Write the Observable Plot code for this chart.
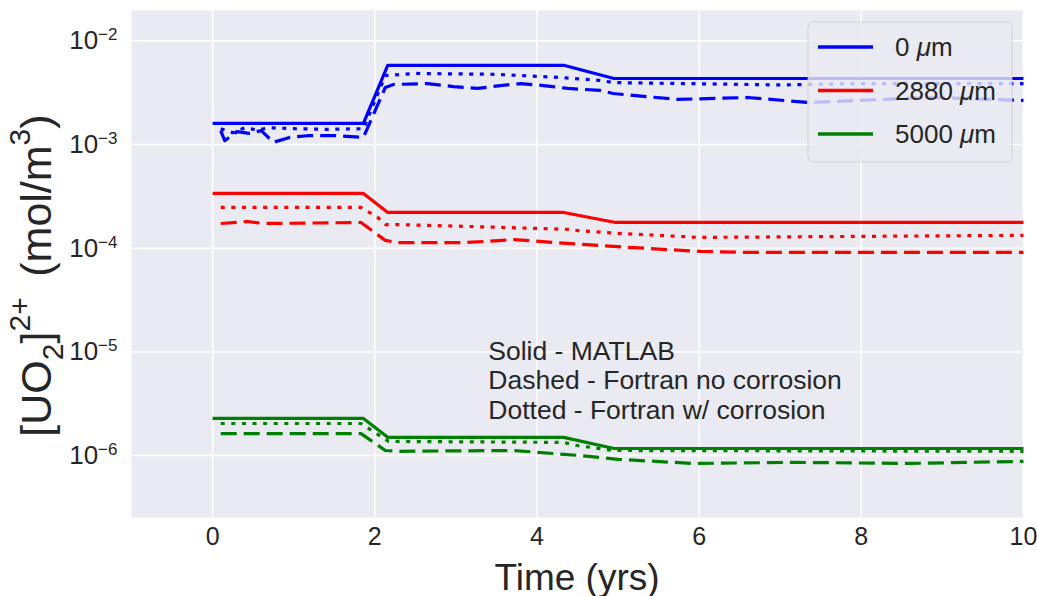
<!DOCTYPE html>
<html>
<head>
<meta charset="utf-8">
<script src="https://cdn.jsdelivr.net/npm/d3@7"></script>
<script src="https://cdn.jsdelivr.net/npm/@observablehq/plot@0.6"></script>
<style>
  body { margin: 0; background: #ffffff; }
  #chart svg { display: block; }
</style>
</head>
<body>
<div id="chart"></div>
<script>
// Axis ticks
const xTicks = [0, 2, 4, 6, 8, 10];
const yTicks = [1e-2, 1e-3, 1e-4, 1e-5, 1e-6];

// Series labels
const depths = ["0", "2880", "5000"];
const depthColors = ["#0000ff", "#ff0000", "#008000"];
const models = ["Solid - MATLAB", "Dashed - Fortran no corrosion", "Dotted - Fortran w/ corrosion"];

// 0 um
const t0Matlab = [0, 1.86, 2.16, 4.33, 4.95, 10];
const c0Matlab = [1.6e-3, 1.6e-3, 5.8e-3, 5.8e-3, 4.33e-3, 4.33e-3];
const t0NoCorr = [0.1, 0.15, 0.3, 0.45, 0.6, 0.75, 0.95, 1.2, 1.5, 1.86, 2.13, 2.23, 2.65, 2.97, 3.27, 3.55, 3.8, 4.08, 4.38, 4.78, 4.94, 5.73, 6.6, 7.34, 7.99, 8.82, 10];
const c0NoCorr = [1.36e-3, 1.09e-3, 1.33e-3, 1.28e-3, 1.36e-3, 1.05e-3, 1.17e-3, 1.22e-3, 1.22e-3, 1.17e-3, 3.55e-3, 3.79e-3, 3.87e-3, 3.62e-3, 3.47e-3, 3.7e-3, 3.87e-3, 3.7e-3, 3.47e-3, 3.32e-3, 3.1e-3, 2.72e-3, 2.84e-3, 2.54e-3, 2.66e-3, 2.84e-3, 2.66e-3];
const t0Corr = [0.1, 0.25, 0.4, 0.55, 0.7, 1.0, 1.4, 1.86, 2.13, 2.5, 3.5, 4.29, 4.78, 4.95, 5.8, 7.0, 8.0, 10];
const c0Corr = [1.42e-3, 1.3e-3, 1.45e-3, 1.38e-3, 1.45e-3, 1.42e-3, 1.4e-3, 1.42e-3, 4.62e-3, 4.84e-3, 4.75e-3, 4.43e-3, 4.14e-3, 3.95e-3, 3.87e-3, 3.75e-3, 3.87e-3, 3.87e-3];

// 2880 um
const t2880Matlab = [0, 1.86, 2.16, 4.33, 4.97, 10];
const c2880Matlab = [3.37e-4, 3.37e-4, 2.21e-4, 2.21e-4, 1.77e-4, 1.77e-4];
const t2880NoCorr = [0.1, 0.43, 0.63, 1.83, 2.13, 2.28, 3.1, 3.71, 4.54, 5.12, 6.02, 6.6, 10];
const c2880NoCorr = [1.73e-4, 1.81e-4, 1.73e-4, 1.77e-4, 1.19e-4, 1.13e-4, 1.13e-4, 1.21e-4, 1.09e-4, 1.02e-4, 9.3e-5, 9.1e-5, 9.1e-5];
const t2880Corr = [0.1, 1.83, 2.03, 2.13, 2.3, 3.4, 4.38, 4.5, 5.0, 6.0, 8.0, 10];
const c2880Corr = [2.47e-4, 2.47e-4, 2.0e-4, 1.69e-4, 1.69e-4, 1.6e-4, 1.52e-4, 1.48e-4, 1.39e-4, 1.27e-4, 1.3e-4, 1.33e-4];

// 5000 um
const t5000Matlab = [0, 1.86, 2.16, 4.33, 4.95, 10];
const c5000Matlab = [2.28e-6, 2.28e-6, 1.5e-6, 1.5e-6, 1.17e-6, 1.17e-6];
const t5000NoCorr = [0.1, 1.83, 2.13, 2.28, 3.71, 4.54, 5.0, 5.93, 7.16, 8.6, 10];
const c5000NoCorr = [1.63e-6, 1.63e-6, 1.12e-6, 1.1e-6, 1.12e-6, 1.0e-6, 9.2e-7, 8.4e-7, 8.6e-7, 8.4e-7, 8.8e-7];
const t5000Corr = [0.1, 1.83, 2.17, 4.33, 4.5, 4.94, 10];
const c5000Corr = [2.04e-6, 2.04e-6, 1.37e-6, 1.34e-6, 1.25e-6, 1.12e-6, 1.1e-6];

// depth index, model index (0 solid, 1 dashed, 2 dotted)
const series = [
  {depth: 0, model: 1, t: t0NoCorr, c: c0NoCorr},
  {depth: 0, model: 2, t: t0Corr, c: c0Corr},
  {depth: 0, model: 0, t: t0Matlab, c: c0Matlab},
  {depth: 1, model: 1, t: t2880NoCorr, c: c2880NoCorr},
  {depth: 1, model: 2, t: t2880Corr, c: c2880Corr},
  {depth: 1, model: 0, t: t2880Matlab, c: c2880Matlab},
  {depth: 2, model: 1, t: t5000NoCorr, c: c5000NoCorr},
  {depth: 2, model: 2, t: t5000Corr, c: c5000Corr},
  {depth: 2, model: 0, t: t5000Matlab, c: c5000Matlab}
];

const dashFor = ["none", "16,7", "4,6.6"];
const FONT = "'Liberation Sans', Arial, sans-serif";
const INK = "#262626";
const BG = "#EAEAF2";

const W = 1037, H = 596;
const M = {left: 131, right: 14, top: 10, bottom: 79};

const lineMarks = series.map(s =>
  Plot.line(s.t.map((t, i) => ({t, c: s.c[i]})), {
    x: "t", y: "c",
    stroke: depthColors[s.depth],
    strokeWidth: 3.2,
    strokeDasharray: dashFor[s.model],
    strokeLinecap: "butt",
    strokeLinejoin: "round"
  })
);

const chart = Plot.plot({
  width: W, height: H,
  marginLeft: M.left, marginRight: M.right, marginTop: M.top, marginBottom: M.bottom,
  style: {fontFamily: FONT, background: "#ffffff", color: INK},
  x: {domain: [-1, 10]},
  y: {type: "log", domain: [Math.pow(10, -6.597), Math.pow(10, -1.708)]},
  marks: [
    Plot.frame({fill: BG, stroke: null}),
    Plot.gridX(xTicks, {stroke: "#ffffff", strokeOpacity: 1, strokeWidth: 1.5}),
    Plot.gridY(yTicks, {stroke: "#ffffff", strokeOpacity: 1, strokeWidth: 1.5}),
    Plot.axisX(xTicks, {tickSize: 0, tickPadding: 10, label: null, fill: INK}),
    Plot.axisY(yTicks, {tickSize: 0, tickPadding: 14, label: null, fill: INK,
      tickFormat: d => "10^" + Math.round(Math.log10(d))}),
    ...lineMarks,
    Plot.text([models.join("\n")], {
      x: 3.4, y: 1.34e-5, text: d => d,
      textAnchor: "start", lineAnchor: "top", lineHeight: 1.12,
      fontSize: 26.5, fill: INK
    })
  ]
});

const svg = d3.select(chart);

// Tick label sizes
svg.selectAll('g[aria-label="x-axis tick label"] text').style("font-size", "25px");

// Exponent tick labels: 10 with a raised exponent
svg.selectAll('g[aria-label="y-axis tick label"] text').each(function () {
  const el = d3.select(this);
  const raw = el.text();
  const exp = raw.split("^")[1];
  el.style("font-size", "26px");
  el.text("10");
  el.append("tspan").attr("baseline-shift", "55%").style("font-size", "17px")
    .text(exp.replace("-", "\u2212"));
});

// Axis titles
svg.append("text")
  .attr("x", (M.left + W - M.right) / 2).attr("y", 577)
  .attr("text-anchor", "middle").attr("dominant-baseline", "central")
  .attr("font-family", FONT).style("font-size", "37px").attr("fill", INK)
  .text("Time (yrs)");

const yl = svg.append("text")
  .attr("transform", `translate(36,${(M.top + H - M.bottom) / 2 + 12}) rotate(-90)`)
  .attr("text-anchor", "middle").attr("dominant-baseline", "central")
  .attr("font-family", FONT).style("font-size", "43px").attr("fill", INK);
yl.append("tspan").text("[UO");
yl.append("tspan").attr("baseline-shift", "sub").style("font-size", "30px").text("2");
yl.append("tspan").text("]");
yl.append("tspan").attr("baseline-shift", "super").style("font-size", "30px").text("2+");
yl.append("tspan").text("\u2009 (mol/m");
yl.append("tspan").attr("baseline-shift", "super").style("font-size", "30px").text("3");
yl.append("tspan").text(")");

// Legend box
const lg = svg.append("g");
lg.append("rect")
  .attr("x", 808).attr("y", 22).attr("width", 204).attr("height", 140).attr("rx", 5)
  .attr("fill", BG).attr("fill-opacity", 0.8)
  .attr("stroke", "#cccccc").attr("stroke-opacity", 0.8);
depths.forEach((d, i) => {
  const yy = 47 + i * 43.5;
  lg.append("line")
    .attr("x1", 818).attr("x2", 873).attr("y1", yy).attr("y2", yy)
    .attr("stroke", depthColors[i]).attr("stroke-width", 3.3);
  const tx = lg.append("text")
    .attr("x", 895).attr("y", yy).attr("text-anchor", "start").attr("dominant-baseline", "central")
    .attr("font-family", FONT).style("font-size", "26px").attr("fill", INK);
  tx.append("tspan").text(d + " ");
  tx.append("tspan").attr("font-style", "italic").text("\u03bc");
  tx.append("tspan").text("m");
});

document.getElementById("chart").append(chart);
</script>
</body>
</html>
